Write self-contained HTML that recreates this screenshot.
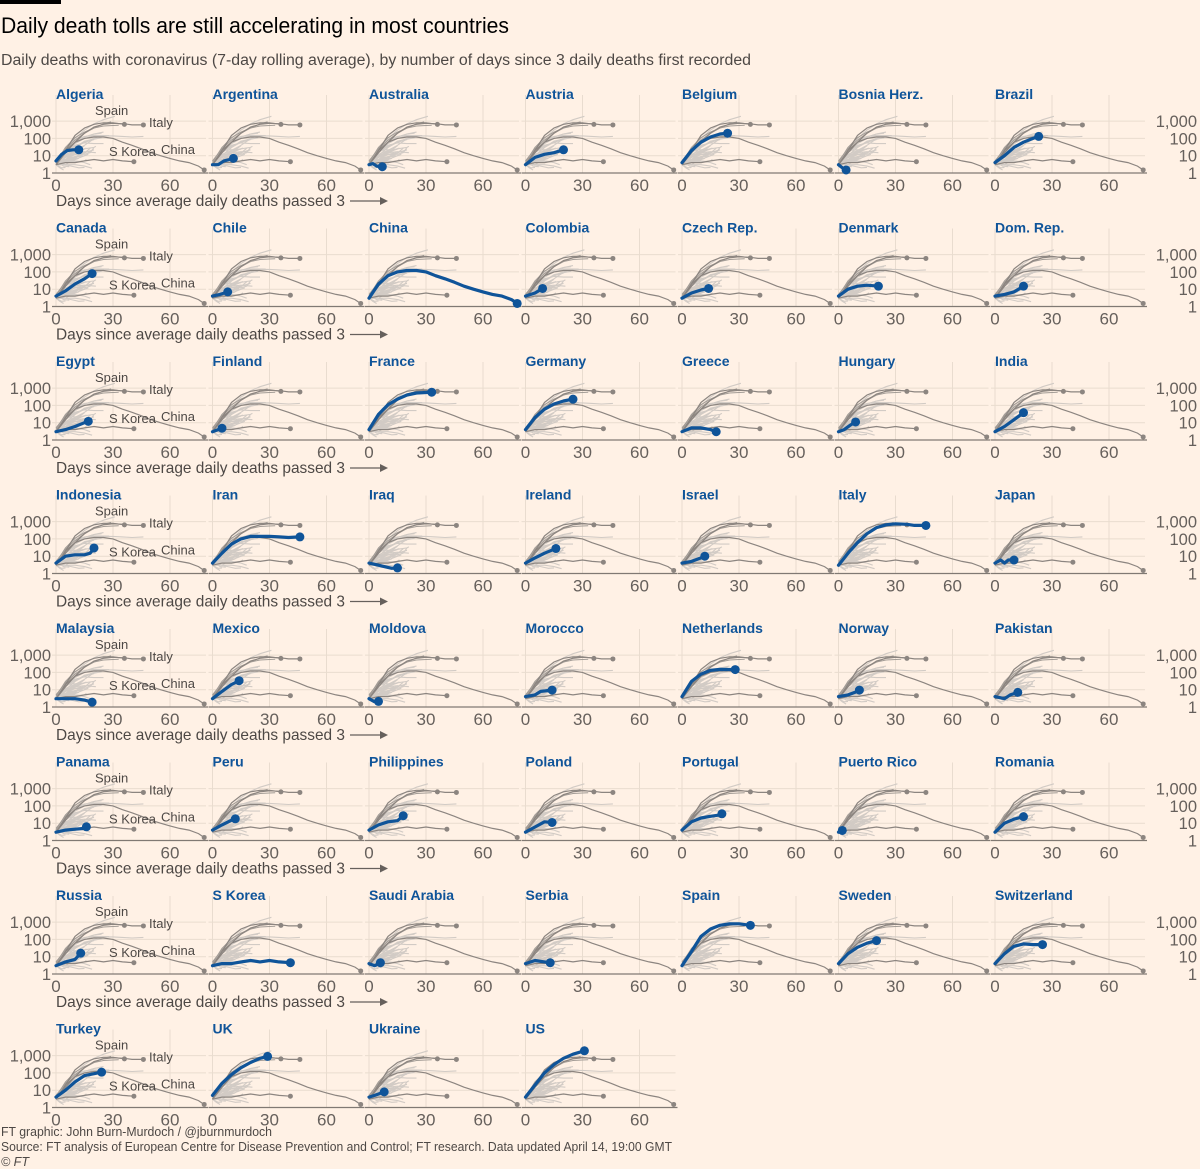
<!DOCTYPE html>
<html><head><meta charset="utf-8">
<style>
html,body{margin:0;padding:0;background:#fff1e5;}
svg{display:block;font-family:"Liberation Sans",sans-serif;}
</style></head>
<body>
<svg id="chart" width="1200" height="1169" viewBox="0 0 1200 1169">
  <rect x="0" y="0" width="1200" height="1169" fill="#fff1e5"/>
  <rect x="0" y="0" width="61" height="4" fill="#000"/>
  <text x="1" y="33" font-size="22" fill="#000" textLength="508" lengthAdjust="spacingAndGlyphs">Daily death tolls are still accelerating in most countries</text>
  <text x="1" y="65" font-size="15.5" fill="#4d4845" textLength="750" lengthAdjust="spacingAndGlyphs">Daily deaths with coronavirus (7-day rolling average), by number of days since 3 daily deaths first recorded</text>
  <g id="panels"></g>
  <text x="1" y="1136" font-size="12.5" fill="#4d4845" textLength="271" lengthAdjust="spacingAndGlyphs">FT graphic: John Burn-Murdoch / @jburnmurdoch</text>
  <text x="1" y="1151" font-size="12.5" fill="#4d4845" textLength="671" lengthAdjust="spacingAndGlyphs">Source: FT analysis of European Centre for Disease Prevention and Control; FT research. Data updated April 14, 19:00 GMT</text>
  <text x="1" y="1166" font-size="12.5" fill="#4d4845" font-style="italic">© FT</text>
</svg>
<script>
const countries = ["Algeria","Argentina","Australia","Austria","Belgium","Bosnia Herz.","Brazil",
"Canada","Chile","China","Colombia","Czech Rep.","Denmark","Dom. Rep.",
"Egypt","Finland","France","Germany","Greece","Hungary","India",
"Indonesia","Iran","Iraq","Ireland","Israel","Italy","Japan",
"Malaysia","Mexico","Moldova","Morocco","Netherlands","Norway","Pakistan",
"Panama","Peru","Philippines","Poland","Portugal","Puerto Rico","Romania",
"Russia","S Korea","Saudi Arabia","Serbia","Spain","Sweden","Switzerland",
"Turkey","UK","Ukraine","US"];
const dayData = [
[0,3,6,9,12],[0,3,6,9,11],[0,2,4,7],[0,5,10,15,20],[0,5,10,15,20,24],[0,2,4],[0,5,10,15,20,23],
[0,5,10,15,19],[0,4,8],[0,5,10,15,20,25,30,35,40,45,50,55,60,65,70,75,78],[0,5,9],[0,5,10,14],[0,5,10,15,21],[0,5,10,15],
[0,5,10,15,17],[0,3,5],[0,5,10,15,20,25,30,33],[0,5,10,15,20,25],[0,5,10,15,18],[0,3,6,9],[0,5,10,15],
[0,5,10,15,18,20],[0,5,10,15,20,25,30,35,40,46],[0,5,8,12,15],[0,5,10,15,16],[0,5,10,12],[0,5,10,15,20,25,30,36,40,46],[0,3,5,7,10],
[0,5,10,15,19],[0,5,10,14],[0,3,5],[0,5,8,14],[0,5,10,15,20,28],[0,5,10,11],[0,5,8,12],
[0,5,10,15,16],[0,5,10,12],[0,5,10,15,18],[0,5,10,14],[0,5,10,15,20,21],[0,2],[0,5,10,15],
[0,5,10,13],[0,5,10,15,20,25,30,35,41],[0,3,6],[0,5,10,13],[0,5,10,15,20,25,30,36],[0,5,10,15,20],[0,5,10,15,20,25],
[0,5,10,15,20,24],[0,5,10,15,20,25,29],[0,3,5,8],[0,5,10,15,20,25,31]];
const valData = [
[5,12,20,22,22],[3,3,5,6,7],[3,3.5,2.5,2.3],[3,8,12,15,22],[4,20,60,120,180,200],[3,2,1.5],[4,10,30,60,100,130],
[4,8,20,40,80],[4,5,7],[3,20,60,100,120,120,100,60,40,25,15,10,7,5,4,2.5,1.5],[4,6,11],[3,6,9,11],[4,10,15,17,15],[4,5,7,15],
[3,4,6,10,12],[3,4,4.8],[4,30,110,230,400,520,560,580],[4,20,60,120,180,230],[3,5,5,4,3],[3,4,7,11],[3,6,15,38],
[4,10,12,12,15,30],[4,15,50,100,140,140,140,130,120,130],[4,3,2.5,2,2.1],[4,8,15,25,28],[4,5,8,10],[3,15,60,200,450,650,750,700,600,600],[4,6,4,6,6],
[3,3,3,2.5,1.9],[3,8,20,33],[3,2,2.1],[4,5,8,9.5],[4,30,80,130,150,145],[4,5,8,9.5],[4,3,5,7],
[3,4,4.5,5,6.2],[4,8,15,18],[4,8,12,14,27],[3,6,12,11],[4,12,20,25,30,35],[3,3.8],[3,10,17,24],
[3,5,7,16],[3,4,4,5,6,5,6,5,4.5],[4,3,4.5],[4,6,5,4.5],[3,20,150,400,650,800,800,650],[4,15,35,60,85],[4,15,40,55,50,50],
[4,10,30,70,90,110],[5,25,80,200,400,700,900],[4,5,6,8],[4,20,100,300,700,1200,1900]];
const xTicks = [0,30,60];
const xTickLabels = ["0","30","60"];
const yTicks = [1,10,100,1000];
const yTickLabels = ["1","10","100","1,000"];
const darkRefs = ["Spain","Italy","China","S Korea"];
const midRefs = ["France","UK"];
const annotations = [["Spain",95,115],["Italy",149,127],["S Korea",109,156],["China",161,154]];

const NS = "http://www.w3.org/2000/svg";
const root = document.getElementById("panels");
const COLS = 7, COLW = 156.5, ROWH = 133.5, X0 = 56, BASE0 = 173, PXDAY = 1.9, PXDEC = 17.3;
function mk(tag, attrs, parent, name) {
  const el = document.createElementNS(NS, tag);
  for (const k in attrs) el.setAttribute(k, attrs[k]);
  
  
  parent.appendChild(el);
  return el;
}
function xs(x0, d) { return x0 + d * PXDAY; }
function ys(base, v) { return base - PXDEC * Math.log10(v); }
function pathFor(i, x0, base) {
  return dayData[i].map((d, k) => (k ? "L" : "M") + xs(x0, d).toFixed(1) + "," + ys(base, valData[i][k]).toFixed(1)).join(" ");
}
function slug(s) { return s.toLowerCase().replace(/[^a-z]+/g, "-").replace(/-$/, ""); }

countries.forEach((name, idx) => {
  const col = idx % COLS, row = Math.floor(idx / COLS);
  const x0 = X0 + col * COLW, base = BASE0 + row * ROWH;
  const g = mk("g", {}, root, "panel-" + slug(name));
  yTicks.slice(1).forEach(v => {
    mk("line", {x1: x0 - 4, x2: x0 + 150, y1: ys(base, v), y2: ys(base, v), stroke: "#e9dccf", "stroke-width": 1}, g, "h-gridline");
  });
  xTicks.forEach(d => {
    mk("line", {x1: xs(x0, d), x2: xs(x0, d), y1: base - 78, y2: base, stroke: "#e9dccf", "stroke-width": 1}, g, "v-gridline");
  });
  countries.forEach((c, j) => {
    if (darkRefs.includes(c) || midRefs.includes(c)) return;
    mk("path", {d: pathFor(j, x0, base), fill: "none", stroke: "#d2cbc5", "stroke-width": 1.1}, g, "background-line-" + slug(c));
  });
  midRefs.forEach(c => {
    const j = countries.indexOf(c);
    mk("path", {d: pathFor(j, x0, base), fill: "none", stroke: "#a39c96", "stroke-width": 1}, g, "reference-line-" + slug(c));
  });
  darkRefs.forEach(c => {
    const j = countries.indexOf(c);
    mk("path", {d: pathFor(j, x0, base), fill: "none", stroke: "#8c8580", "stroke-width": 1.2}, g, "reference-line-" + slug(c));
    const n = dayData[j].length - 1;
    mk("circle", {cx: xs(x0, dayData[j][n]), cy: ys(base, valData[j][n]), r: 2.5, fill: "#8c8580"}, g, "reference-dot-" + slug(c));
  });
  mk("line", {x1: x0 - 4, x2: x0 + 152, y1: base, y2: base, stroke: "#807973", "stroke-width": 1.3}, g, "x-axis-line");
  xTicks.forEach((d, k) => {
    const t = mk("text", {x: xs(x0, d), y: base + 18, "font-size": 17, fill: "#66605c", "text-anchor": "middle"}, g, "x-tick-label");
    t.textContent = xTickLabels[k];
  });
  mk("path", {d: pathFor(idx, x0, base), fill: "none", stroke: "#0f5499", "stroke-width": 3.2, "stroke-linejoin": "round", "stroke-linecap": "round"}, g, "series-line-" + slug(name));
  const n = dayData[idx].length - 1;
  mk("circle", {cx: xs(x0, dayData[idx][n]), cy: ys(base, valData[idx][n]), r: 4.5, fill: "#0f5499"}, g, "series-end-dot-" + slug(name));
  const title = mk("text", {x: x0, y: base - 74, "font-size": 14, "font-weight": "bold", fill: "#0f5499"}, g, "panel-title");
  title.textContent = name;
  if (col === 0) {
    yTicks.forEach((v, k) => {
      const t = mk("text", {x: 51, y: ys(base, v) + 6, "font-size": 16.5, fill: "#66605c", "text-anchor": "end"}, g, "y-tick-label-left");
      t.textContent = yTickLabels[k];
    });
    annotations.forEach(a => {
      const t = mk("text", {x: a[1], y: base - 173 + a[2], "font-size": 13, fill: "#4d4845"}, g, "annotation-" + slug(a[0]));
      t.textContent = a[0];
    });
    if (row < 7) {
      const t = mk("text", {x: 56, y: base + 33, "font-size": 16, fill: "#4d4845", textLength: 289, lengthAdjust: "spacingAndGlyphs"}, g, "x-axis-title");
      t.textContent = "Days since average daily deaths passed 3";
      mk("line", {x1: 350, x2: 386, y1: base + 28, y2: base + 28, stroke: "#66605c", "stroke-width": 1.2}, g, "x-axis-arrow");
      mk("path", {d: `M380,${base + 24} L388,${base + 28} L380,${base + 32} Z`, fill: "#66605c"}, g, "x-axis-arrowhead");
    }
  }
  if (col === 6) {
    yTicks.forEach((v, k) => {
      const t = mk("text", {x: 1197, y: ys(base, v) + 6, "font-size": 16.5, fill: "#66605c", "text-anchor": "end"}, g, "y-tick-label-right");
      t.textContent = yTickLabels[k];
    });
  }
});
</script>
</body></html>
